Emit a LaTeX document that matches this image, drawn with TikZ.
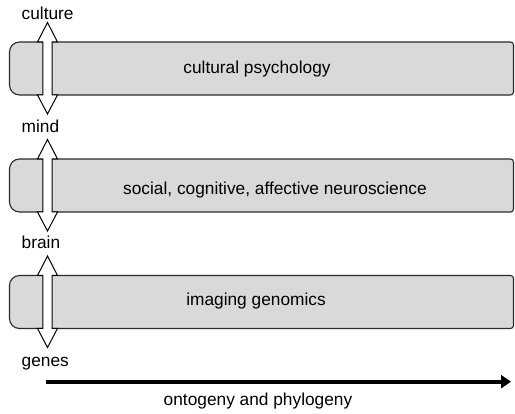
\documentclass[tikz,border=0pt]{standalone}
\usepackage{fontspec}
\setmainfont{Liberation Sans}
\usetikzlibrary{arrows.meta}
\definecolor{barfill}{HTML}{D9D9D9}
\definecolor{barline}{HTML}{2A2A2A}
\tikzset{
  bar/.style={draw=barline, fill=barfill, line width=1.1pt},
  levelarrow/.style={draw=black, fill=white, line width=1pt, line join=miter},
  txt/.style={inner sep=0pt, anchor=base, font=\fontsize{17.3}{20}\selectfont},
  lbl/.style={inner sep=0pt, anchor=base west, font=\fontsize{17.3}{20}\selectfont},
  timeline/.style={line width=4pt, -{Triangle[length=10pt,width=13pt]}}
}
\begin{document}
\begin{tikzpicture}[x=1pt,y=-1pt]
  \useasboundingbox (0,0) rectangle (515,414);
  \clip (0,0) rectangle (515,414);

  % three bands: wide rounding on the left, tight on the right
  \foreach \t in {42, 159, 275.5}{
    \pgfmathsetmacro{\bt}{\t+53}
    \pgfmathsetmacro{\bm}{\t+26.5}
    \draw[bar, rounded corners=10pt] (9.5,\bm) -- (9.5,\t) -- (300,\t)
      [rounded corners=3pt] -- (513.5,\t) -- (513.5,\bt) -- (300,\bt)
      [rounded corners=10pt] -- (9.5,\bt) -- cycle;
  }

  % double arrows between levels
  \foreach \t in {42, 159, 275.5}{
    \pgfmathsetmacro{\bt}{\t+53}
    \draw[levelarrow] (47.5,\t-19.5) -- (57.5,\t) -- (52.2,\t) -- (52.2,\bt)
      -- (57.5,\bt) -- (47.5,\bt+19) -- (37.5,\bt) -- (42.8,\bt)
      -- (42.8,\t) -- (37.5,\t) -- cycle;
  }

  % band titles
  \node[txt] (cp) at (257,74) {cultural psychology};
  \node[txt] (scan) at (275,195) {social, cognitive, affective neuroscience};
  \node[txt] (ig) at (256,306) {imaging genomics};

  % level labels
  \node[lbl] (culture) at (21.5,20) {culture};
  \node[lbl] (mind) at (21.5,133) {mind};
  \node[lbl] (brain) at (21.5,249) {brain};
  \node[lbl] (genes) at (21.5,367) {genes};

  % time axis
  \coordinate (tstart) at (46,381.7);
  \coordinate (tend) at (511,381.7);
  \draw[timeline] (tstart) -- (tend);
  \node[txt] (axis) at (258,406) {ontogeny and phylogeny};
\end{tikzpicture}
\end{document}
